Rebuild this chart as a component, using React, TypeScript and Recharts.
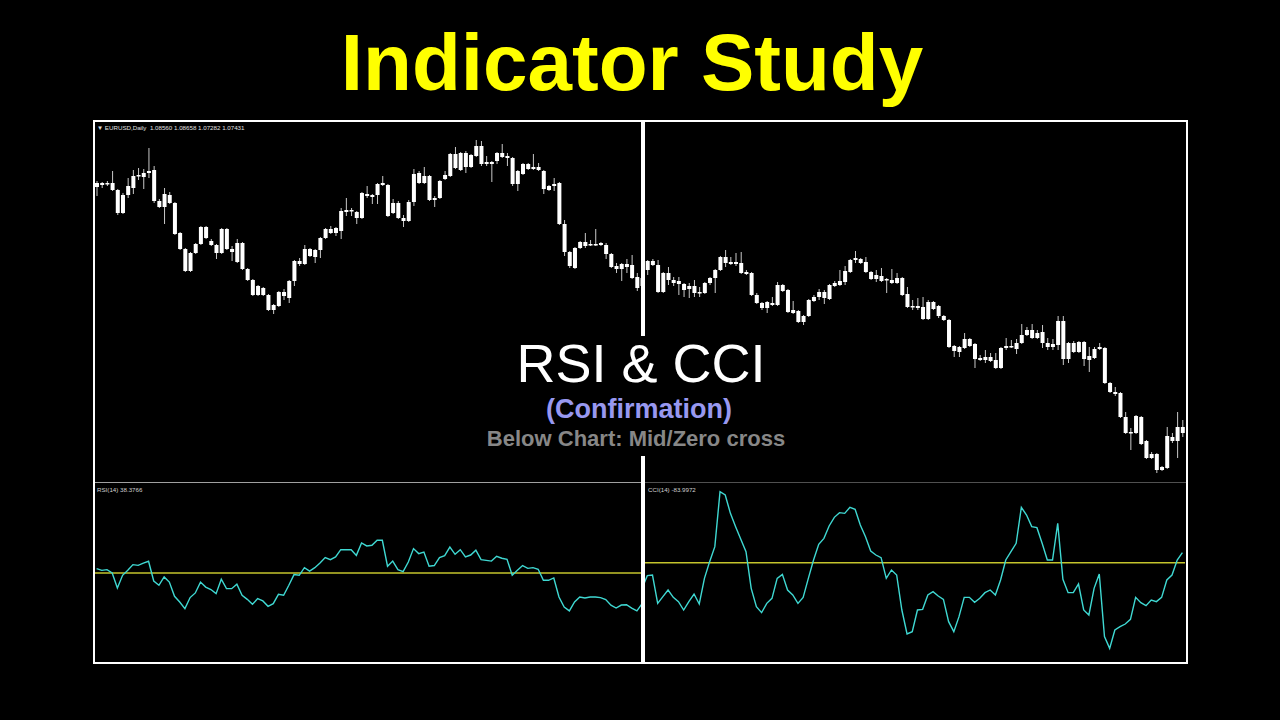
import { ComposedChart, Bar, XAxis, YAxis, LineChart, Line, ReferenceLine } from "recharts";

// EURUSD daily candles, prices in points (price × 10⁴), oldest first
const openPts = [
  11214, 11210, 11212, 11214, 11200, 11154, 11190, 11204, 11228, 11226,
  11234, 11240, 11178, 11166, 11190, 11174, 11114, 11082, 11038, 11074,
  11092, 11126, 11098, 11090, 11074, 11122, 11082, 11056, 11094, 11042,
  11020, 10990, 11004, 10990, 10960, 10968, 10996, 10984, 11018, 11058,
  11052, 11082, 11066, 11080, 11104, 11122, 11114, 11118, 11156, 11160,
  11156, 11144, 11192, 11190, 11190, 11210, 11210, 11154, 11174, 11144,
  11138, 11176, 11214, 11228, 11228, 11180, 11184, 11222, 11228, 11272,
  11240, 11274, 11246, 11268, 11288, 11252, 11256, 11258, 11274, 11268,
  11264, 11212, 11232, 11252, 11242, 11246, 11238, 11200, 11208, 11214,
  11132, 11076, 11044, 11084, 11096, 11090, 11092, 11090, 11090, 11072,
  11048, 11042, 11052, 11050, 11026, 11008, 11040, 11058, 11050, 10996,
  11034, 11020, 11018, 11012, 11002, 11008, 10994, 10994, 11014, 11024,
  11040, 11066, 11056, 11052, 11054, 11036, 11034, 10990, 10974, 10964,
  10974, 10970, 11010, 11000, 10960, 10958, 10936, 10948, 10978, 10986,
  10996, 10982, 11008, 11010, 11016, 11036, 11060, 11062, 11056, 11036,
  11022, 11028, 11020, 11020, 11014, 11024, 10992, 10966, 10968, 10966,
  10942, 10976, 10968, 10948, 10940, 10888, 10876, 10884, 10902, 10892,
  10864, 10860, 10866, 10860, 10844, 10884, 10888, 10882, 10894, 10910,
  10920, 10904, 10916, 10894, 10886, 10890, 10938, 10862, 10894, 10876,
  10896, 10868, 10864, 10882, 10884, 10814, 10796, 10794, 10746, 10716,
  10714, 10746, 10698, 10672, 10672, 10646, 10644, 10706, 10698, 10726,
];

const highPts = [
  11218, 11216, 11218, 11238, 11202, 11194, 11224, 11240, 11244, 11242,
  11284, 11248, 11182, 11204, 11196, 11176, 11116, 11084, 11076, 11094,
  11128, 11128, 11102, 11092, 11124, 11124, 11088, 11102, 11096, 11044,
  11022, 11010, 11006, 10992, 10972, 10998, 11002, 11020, 11060, 11064,
  11090, 11084, 11082, 11106, 11124, 11128, 11126, 11164, 11184, 11164,
  11158, 11196, 11208, 11192, 11214, 11228, 11212, 11182, 11178, 11150,
  11180, 11242, 11238, 11246, 11230, 11188, 11220, 11238, 11274, 11286,
  11276, 11278, 11272, 11300, 11298, 11268, 11258, 11276, 11292, 11274,
  11266, 11240, 11254, 11254, 11272, 11254, 11240, 11210, 11224, 11216,
  11140, 11078, 11086, 11098, 11114, 11100, 11122, 11096, 11094, 11074,
  11054, 11054, 11062, 11070, 11034, 11028, 11060, 11062, 11060, 11036,
  11046, 11026, 11026, 11014, 11014, 11020, 11006, 11016, 11026, 11042,
  11068, 11080, 11066, 11074, 11076, 11040, 11036, 10994, 10976, 10978,
  10986, 11016, 11012, 11002, 10978, 10960, 10950, 10982, 10990, 11002,
  11000, 11012, 11018, 11040, 11048, 11062, 11078, 11064, 11066, 11038,
  11040, 11044, 11024, 11042, 11034, 11026, 11006, 10980, 10984, 10986,
  10980, 10978, 10970, 10950, 10942, 10890, 10888, 10914, 10904, 10894,
  10870, 10880, 10874, 10874, 10886, 10904, 10900, 10902, 10932, 10926,
  10932, 10920, 10930, 10904, 10902, 10948, 10948, 10896, 10898, 10898,
  10898, 10886, 10886, 10894, 10886, 10816, 10806, 10796, 10756, 10724,
  10750, 10748, 10700, 10676, 10674, 10648, 10726, 10714, 10756, 10740,
];

const lowPts = [
  11188, 11204, 11208, 11198, 11150, 11152, 11184, 11192, 11220, 11202,
  11224, 11174, 11164, 11132, 11172, 11110, 11080, 11036, 11036, 11072,
  11090, 11102, 11088, 11062, 11072, 11080, 11058, 11054, 11040, 11018,
  10988, 10988, 10988, 10958, 10952, 10966, 10980, 10974, 11008, 11048,
  11050, 11066, 11054, 11064, 11102, 11112, 11108, 11102, 11148, 11148,
  11132, 11142, 11184, 11172, 11172, 11208, 11146, 11152, 11142, 11126,
  11136, 11168, 11212, 11212, 11178, 11166, 11182, 11220, 11226, 11242,
  11238, 11234, 11244, 11266, 11248, 11248, 11216, 11252, 11264, 11248,
  11208, 11198, 11230, 11240, 11240, 11238, 11192, 11198, 11198, 11130,
  11068, 11044, 11042, 11082, 11084, 11088, 11088, 11088, 11062, 11044,
  11034, 11018, 11034, 11022, 10998, 11004, 11030, 11048, 10994, 10994,
  11010, 11008, 10990, 10986, 10984, 10986, 10986, 10992, 11010, 10994,
  11038, 11046, 11050, 11048, 11032, 11030, 10988, 10972, 10960, 10954,
  10968, 10968, 10996, 10954, 10952, 10934, 10930, 10946, 10976, 10980,
  10972, 10980, 11006, 11008, 11010, 11034, 11054, 11052, 11034, 11020,
  11016, 11016, 10994, 11012, 11012, 10988, 10964, 10960, 10960, 10940,
  10940, 10960, 10944, 10938, 10884, 10866, 10866, 10882, 10886, 10844,
  10858, 10854, 10856, 10842, 10842, 10880, 10884, 10872, 10892, 10908,
  10902, 10902, 10884, 10880, 10880, 10880, 10850, 10854, 10874, 10874,
  10848, 10836, 10862, 10880, 10812, 10794, 10788, 10744, 10712, 10680,
  10712, 10690, 10662, 10662, 10634, 10638, 10642, 10694, 10664, 10706,
];

const closePts = [
  11206, 11214, 11214, 11200, 11154, 11190, 11208, 11228, 11230, 11234,
  11238, 11178, 11166, 11192, 11174, 11112, 11082, 11038, 11074, 11092,
  11126, 11104, 11090, 11074, 11122, 11082, 11076, 11094, 11042, 11020,
  10990, 11008, 10990, 10960, 10970, 10996, 10988, 11018, 11058, 11052,
  11082, 11068, 11080, 11104, 11122, 11114, 11124, 11158, 11160, 11158,
  11144, 11194, 11188, 11186, 11212, 11214, 11148, 11174, 11144, 11138,
  11176, 11232, 11234, 11214, 11180, 11184, 11218, 11230, 11272, 11244,
  11274, 11246, 11270, 11288, 11252, 11256, 11252, 11274, 11266, 11264,
  11212, 11238, 11252, 11242, 11246, 11240, 11202, 11208, 11212, 11132,
  11076, 11048, 11084, 11096, 11088, 11092, 11090, 11094, 11072, 11046,
  11042, 11052, 11046, 11024, 11004, 11024, 11058, 11050, 10996, 11034,
  11020, 11014, 11012, 11000, 11008, 10994, 10996, 11014, 11024, 11040,
  11066, 11054, 11052, 11056, 11034, 11032, 10990, 10974, 10964, 10976,
  10970, 11010, 10998, 10956, 10954, 10936, 10948, 10980, 10986, 10996,
  10984, 11010, 11014, 11018, 11038, 11060, 11064, 11054, 11036, 11022,
  11030, 11018, 11022, 11014, 11024, 10990, 10966, 10968, 10964, 10942,
  10976, 10962, 10948, 10940, 10886, 10878, 10886, 10902, 10888, 10862,
  10860, 10866, 10858, 10844, 10884, 10888, 10886, 10894, 10910, 10920,
  10904, 10914, 10894, 10886, 10892, 10938, 10862, 10894, 10876, 10896,
  10862, 10860, 10882, 10886, 10814, 10796, 10792, 10746, 10714, 10714,
  10748, 10692, 10664, 10664, 10640, 10640, 10708, 10698, 10726, 10714,
];

// RSI(14) for bars 0..105 (left half)
const rsi14 = [
  52.5, 51.5, 51.9, 50.0, 41.6, 48.7, 51.5, 54.7, 54.3, 55.6,
  56.6, 45.5, 43.1, 47.8, 44.9, 36.9, 33.7, 30.0, 36.2, 38.8,
  44.9, 42.1, 40.7, 38.4, 46.5, 41.2, 41.2, 43.7, 37.5, 35.2,
  32.4, 35.6, 34.3, 31.3, 32.8, 38.0, 37.5, 43.1, 49.1, 48.7,
  53.0, 51.1, 53.0, 55.6, 58.7, 57.5, 59.0, 63.1, 63.1, 63.1,
  59.9, 66.9, 65.2, 65.6, 68.4, 68.4, 53.8, 56.7, 51.9, 50.8,
  56.2, 63.7, 60.9, 61.8, 53.8, 54.2, 58.7, 59.8, 64.6, 60.5,
  63.1, 59.0, 60.1, 62.8, 57.5, 57.1, 56.7, 59.4, 58.3, 57.7,
  48.7, 51.5, 54.2, 52.6, 53.0, 52.1, 45.9, 45.9, 47.2, 36.5,
  30.9, 28.7, 33.7, 36.5, 36.0, 36.5, 36.5, 36.2, 35.1, 31.9,
  30.3, 32.0, 32.2, 30.3, 28.7, 32.8,
];

// CCI(14) for bars 105..209 (right half)
const CCI_FROM = 105;
const cci14 = [
  -89.7, -45.3, -43.0, -142.2, -118.8, -95.5, -121.2, -136.3, -165.5, -136.3,
  -109.5, -144.5, -54.7, 3.7, 56.2, 248.7, 237.0, 172.8, 126.2, 81.8,
  38.7, -89.7, -153.8, -174.8, -142.2, -124.7, -54.7, -40.7, -95.5, -113.0,
  -142.2, -121.2, -54.7, 9.5, 64.3, 85.3, 128.5, 158.8, 175.2, 172.8,
  193.8, 186.8, 132.0, 91.2, 41.0, 27.0, 17.7, -54.7, -25.5, -43.0,
  -165.5, -249.5, -241.3, -165.5, -163.2, -113.0, -101.3, -116.5, -128.2, -206.4,
  -241.3, -188.8, -121.2, -121.2, -138.7, -124.7, -104.8, -95.5, -113.0, -60.5,
  9.5, 38.7, 67.8, 193.8, 167.0, 126.2, 122.7, 67.8, 9.5, 9.5,
  137.8, -58.2, -104.8, -104.8, -74.5, -165.5, -183.0, -89.7, -39.5, -258.8,
  -299.7, -235.5, -223.8, -214.5, -198.2, -121.2, -139.8, -150.3, -130.5, -136.3,
  -121.2, -60.5, -43.0, 9.5, 35.2,
];

const TITLE = "Indicator Study";
const SYMBOL_LABEL = "EURUSD,Daily  1.08560 1.08658 1.07282 1.07431";
const RSI_LABEL = "RSI(14) 38.3766";
const CCI_LABEL = "CCI(14) -83.9972";

const candles = openPts.map((o, i) => {
  const high = highPts[i] / 1e4;
  const low = lowPts[i] / 1e4;
  return { i, open: o / 1e4, high, low, close: closePts[i] / 1e4, range: [low, high] };
});

const indicators = candles.map(({ i }) => ({
  i,
  rsi: i < rsi14.length ? rsi14[i] : null,
  cci: i >= CCI_FROM ? cci14[i - CCI_FROM] : null,
}));

const FONT = "'Liberation Sans', Arial, sans-serif";
const CYAN = "#3fd8d2";
const LEVEL = "#c4c42c";
const NO_MARGIN = { top: 0, right: 0, bottom: 0, left: 0 };

function Candle(props: any) {
  const { x, y, width, height, payload } = props;
  if (!payload || height == null) return null;
  const cx = x + width / 2;
  const top = Math.min(y, y + height);
  const bottom = Math.max(y, y + height);
  const span = payload.high - payload.low || 1;
  const toY = (p: number) => top + ((payload.high - p) / span) * (bottom - top);
  const bodyTop = toY(Math.max(payload.open, payload.close));
  const bodyBottom = toY(Math.min(payload.open, payload.close));
  return (
    <g>
      <line x1={cx} x2={cx} y1={top} y2={bottom} stroke="#c8c8c8" strokeWidth={1} />
      <rect x={cx - 2} y={bodyTop} width={4} height={Math.max(bodyBottom - bodyTop, 1.5)} fill="#ffffff" />
    </g>
  );
}

export default function App() {
  return (
    <div
      style={{
        position: "absolute",
        left: 0,
        top: 0,
        width: 1280,
        height: 720,
        background: "#000",
        overflow: "hidden",
        fontFamily: FONT,
      }}
    >
      <div
        style={{
          position: "absolute",
          left: 0,
          top: 23,
          width: 1264,
          textAlign: "center",
          fontSize: 80,
          lineHeight: 1,
          fontWeight: 700,
          color: "#ffff00",
        }}
      >
        {TITLE}
      </div>

      {/* price chart */}
      <div style={{ position: "absolute", left: 94, top: 121 }}>
        <ComposedChart width={1091} height={361} data={candles} margin={NO_MARGIN}>
          <XAxis dataKey="i" hide />
          <YAxis hide domain={[1.0616, 1.1338]} allowDataOverflow />
          <Bar
            dataKey="range"
            barSize={4}
            shape={(p: any) => <Candle {...p} />}
            isAnimationActive={false}
          />
        </ComposedChart>
      </div>

      {/* RSI (left) and CCI (right) sub-window */}
      <div style={{ position: "absolute", left: 94, top: 484 }}>
        <LineChart width={1091} height={178} data={indicators} margin={NO_MARGIN}>
          <XAxis dataKey="i" type="number" domain={[-0.5, 209.5]} hide allowDataOverflow />
          <YAxis yAxisId="rsi" hide domain={[0, 100]} allowDataOverflow />
          <YAxis yAxisId="cci" hide domain={[-347.5, 275.5]} allowDataOverflow />
          <ReferenceLine
            yAxisId="rsi"
            segment={[{ x: -0.5, y: 50 }, { x: CCI_FROM, y: 50 }]}
            stroke={LEVEL}
            strokeWidth={1.5}
          />
          <ReferenceLine
            yAxisId="cci"
            segment={[{ x: CCI_FROM, y: 0 }, { x: 209.5, y: 0 }]}
            stroke={LEVEL}
            strokeWidth={1.5}
          />
          <Line
            yAxisId="rsi"
            dataKey="rsi"
            stroke={CYAN}
            strokeWidth={1.4}
            dot={false}
            isAnimationActive={false}
          />
          <Line
            yAxisId="cci"
            dataKey="cci"
            stroke={CYAN}
            strokeWidth={1.4}
            dot={false}
            isAnimationActive={false}
          />
        </LineChart>
      </div>

      {/* window separators */}
      <div style={{ position: "absolute", left: 95, top: 482, width: 547, height: 1, background: "#a0a0a0" }} />
      <div style={{ position: "absolute", left: 645, top: 482, width: 541, height: 1, background: "#505050" }} />

      {/* frame and divider */}
      <div
        style={{
          position: "absolute",
          left: 93,
          top: 120,
          width: 1095,
          height: 544,
          border: "2px solid #fff",
          boxSizing: "border-box",
        }}
      />
      <div style={{ position: "absolute", left: 641, top: 121, width: 4, height: 542, background: "#fff" }} />

      {/* small MT4 labels */}
      <div style={{ position: "absolute", left: 97, top: 124, fontSize: 6.2, color: "#e0e0e0", whiteSpace: "pre" }}>
        {"▼ " + SYMBOL_LABEL}
      </div>
      <div style={{ position: "absolute", left: 97, top: 486, fontSize: 6.2, color: "#d0d0d0" }}>{RSI_LABEL}</div>
      <div style={{ position: "absolute", left: 648, top: 486, fontSize: 6.2, color: "#d0d0d0" }}>{CCI_LABEL}</div>

      {/* centre caption */}
      <div
        style={{
          position: "absolute",
          left: 480,
          top: 336,
          width: 322,
          height: 120,
          background: "#000",
        }}
      />
      <div
        style={{
          position: "absolute",
          left: 441,
          top: 340,
          width: 400,
          textAlign: "center",
          fontSize: 54,
          lineHeight: "46px",
          color: "#fff",
        }}
      >
        RSI &amp; CCI
      </div>
      <div
        style={{
          position: "absolute",
          left: 439,
          top: 397,
          width: 400,
          textAlign: "center",
          fontSize: 27,
          lineHeight: "24px",
          fontWeight: 700,
          color: "#9898f0",
        }}
      >
        (Confirmation)
      </div>
      <div
        style={{
          position: "absolute",
          left: 436,
          top: 429,
          width: 400,
          textAlign: "center",
          fontSize: 22,
          lineHeight: "20px",
          fontWeight: 700,
          color: "#878787",
        }}
      >
        Below Chart: Mid/Zero cross
      </div>
    </div>
  );
}
